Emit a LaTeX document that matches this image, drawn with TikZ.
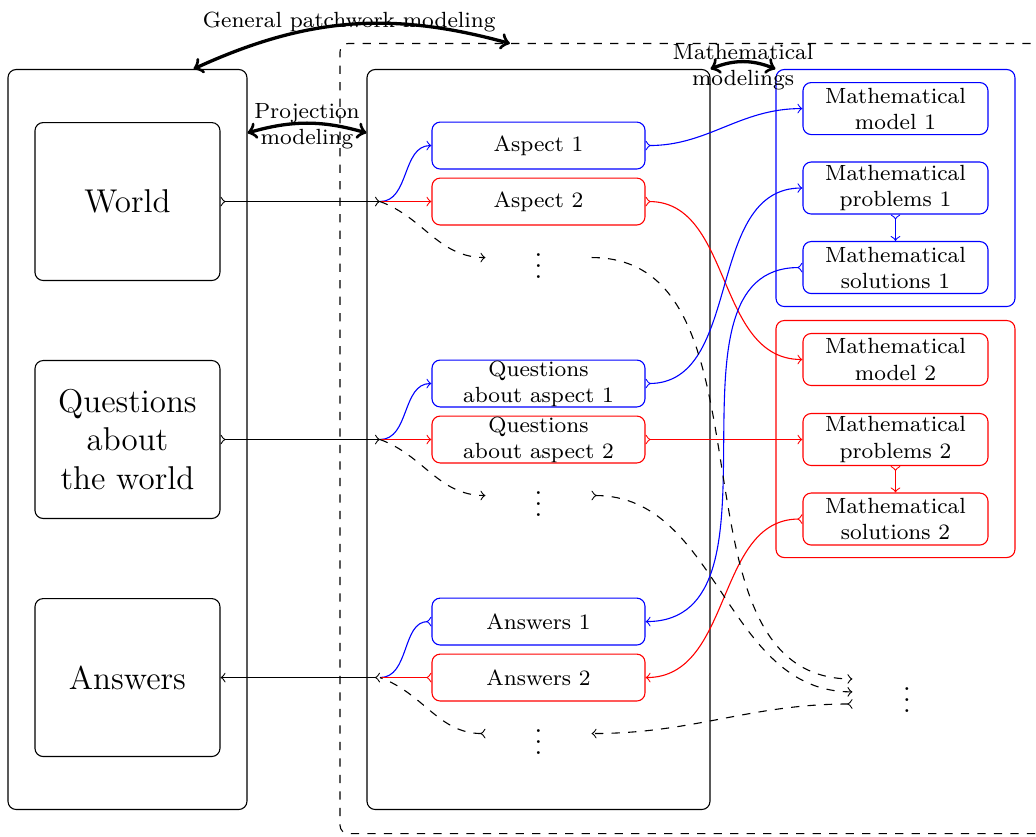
\documentclass[tikz,border=0pt]{standalone}
\usepackage{amsmath, amssymb}
\usepackage{tikz}
\usetikzlibrary{calc}

\begin{document}
\begin{tikzpicture}[
  panel/.style={draw, rounded corners=3pt, minimum width=3.056cm, minimum height=9.463cm},
  world/.style={draw, rounded corners=3pt, minimum width=2.366cm, minimum height=2.02cm, align=center, font=\large},
  aspect/.style={draw, rounded corners=3pt, minimum width=2.724cm, minimum height=0.6cm, align=center, font=\footnotesize, inner sep=0pt},
  mathbox/.style={draw, rounded corners=3pt, minimum width=2.366cm, minimum height=0.665cm, align=center, font=\footnotesize, inner sep=1pt},
  vdotsnode/.style={minimum width=1.343cm, inner sep=0pt},
  flow/.style={>->},
  modeling/.style={<->, very thick},
]
\useasboundingbox (0,0.0064) rectangle (13.248,10.6974);
%% panels
\node[panel] (leftpanel) at (1.630,5.077) {};
\node[panel, minimum width=4.386cm] (midpanel) at (6.886,5.077) {};
\draw[dashed, rounded corners=3pt] (13.6,10.141) -- (4.348,10.141) -- (4.348,0.038) -- (13.6,0.038);
\node[panel, blue, minimum height=3.031cm] (bluegroup) at (11.451,8.293) {};
\node[panel, red, minimum height=3.031cm] (redgroup) at (11.451,5.083) {};
%% world side
\node[world] (world) at (1.630,8.120) {World};
\node[world] (questions) at (1.630,5.077) {Questions\\about\\the world};
\node[world] (answers) at (1.630,2.033) {Answers};
%% aspects
\node[aspect, blue] (aspect1) at (6.886,8.836) {\color{black}Aspect 1};
\node[aspect, red] (aspect2) at (6.886,8.120) {\color{black}Aspect 2};
\node[vdotsnode] (vd1) at (6.886,7.404) {$\vdots$};
\node[aspect, blue] (question1) at (6.886,5.793) {\color{black}Questions\\\color{black}about aspect 1};
\node[aspect, red] (question2) at (6.886,5.077) {\color{black}Questions\\\color{black}about aspect 2};
\node[vdotsnode] (vd2) at (6.886,4.361) {$\vdots$};
\node[aspect, blue] (answer1) at (6.886,2.749) {\color{black}Answers 1};
\node[aspect, red] (answer2) at (6.886,2.033) {\color{black}Answers 2};
\node[vdotsnode] (vd3) at (6.886,1.317) {$\vdots$};
%% mathematics
\node[mathbox, blue] (model1) at (11.451,9.309) {\color{black}Mathematical\\\color{black}model 1};
\node[mathbox, blue] (problems1) at (11.451,8.293) {\color{black}Mathematical\\\color{black}problems 1};
\node[mathbox, blue] (solutions1) at (11.451,7.276) {\color{black}Mathematical\\\color{black}solutions 1};
\node[mathbox, red] (model2) at (11.451,6.100) {\color{black}Mathematical\\\color{black}model 2};
\node[mathbox, red] (problems2) at (11.451,5.077) {\color{black}Mathematical\\\color{black}problems 2};
\node[mathbox, red] (solutions2) at (11.451,4.060) {\color{black}Mathematical\\\color{black}solutions 2};
\node[vdotsnode, minimum width=1.381cm] (fardots) at (11.598,1.850) {$\vdots$};
%% branch points
\coordinate (b1) at (4.859,8.120);
\coordinate (b2) at (4.859,5.077);
\coordinate (b3) at (4.859,2.033);
\coordinate (far1) at ($(fardots.west)+(0,0.165)$);
\coordinate (far3) at ($(fardots.west)+(0,-0.155)$);
%% projection
\draw[->, blue] (b1) to[out=0, in=180] (aspect1.west);
\draw[->, red] (b1) -- (aspect2.west);
\draw[->, dashed] (b1) to[out=-20, in=180] (vd1.west);
\draw[flow] (world.east) -- (b1);
\draw[->, blue] (b2) to[out=0, in=180] (question1.west);
\draw[->, red] (b2) -- (question2.west);
\draw[->, dashed] (b2) to[out=-20, in=180] (vd2.west);
\draw[flow] (questions.east) -- (b2);
\draw[>-, blue] (answer1.west) to[out=180, in=0] (b3);
\draw[>-, red] (answer2.west) -- (b3);
\draw[>-, dashed] (vd3.west) to[out=180, in=-20] (b3);
\draw[<-<] (answers.east) -- (b3);
%% mathematical modeling
\draw[flow, blue] (aspect1.east) to[out=0, in=180] (model1.west);
\draw[flow, red] (aspect2.east) to[out=0, in=180] (model2.west);
\draw[flow, blue] (question1.east) to[out=0, in=180] (problems1.west);
\draw[flow, red] (question2.east) -- (problems2.west);
\draw[flow, blue] (problems1.south) -- (solutions1.north);
\draw[flow, red] (problems2.south) -- (solutions2.north);
\draw[flow, blue] (solutions1.west) to[out=180, in=0] (answer1.east);
\draw[flow, red] (solutions2.west) to[out=180, in=0] (answer2.east);
\draw[->, dashed] (vd1.east) to[out=0, in=180] (far1);
\draw[flow, dashed] (vd2.east) to[out=0, in=180] (fardots.west);
\draw[flow, dashed] (far3) to[out=180, in=0] (vd3.east);
%% modelings
\coordinate (gpleft) at ($(leftpanel.north east)+(-0.69,0)$);
\coordinate (patchtop) at (6.52,10.141);
\coordinate (projleft) at ($(leftpanel.north east)+(0,-0.818)$);
\coordinate (projright) at ($(midpanel.north west)+(0,-0.818)$);
\draw[modeling] (gpleft) to[bend left=20] node[yshift=1pt, font=\footnotesize]{General patchwork modeling} (patchtop);
\draw[modeling] (projleft) to[bend left=16] node[yshift=-1pt, align=center, font=\footnotesize]{Projection\\modeling} (projright);
\draw[modeling] (midpanel.north east) to[bend left=22] node[yshift=-2pt, align=center, font=\footnotesize]{Mathematical\\modelings} (bluegroup.north west);
\end{tikzpicture}
\end{document}
